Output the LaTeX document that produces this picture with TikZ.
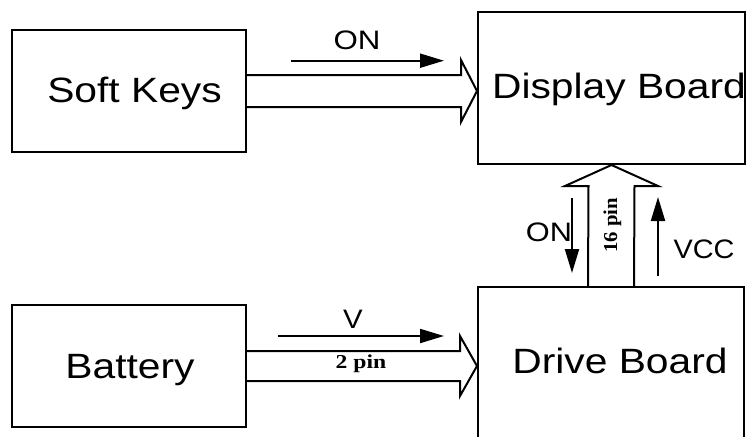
\documentclass[tikz,border=0pt]{standalone}
\usepackage{fontspec}
\usepackage{graphicx}
\setmainfont{Liberation Sans}
\newfontfamily\pinfont{Liberation Serif}
\usetikzlibrary{arrows.meta,positioning,calc}

\newcommand{\wider}[2]{\scalebox{#1}[1]{#2}}

\tikzset{
  blk/.style={draw, line width=0.05cm},
  bigtxt/.style={font=\fontsize{25}{28}\selectfont, anchor=base, inner sep=0pt},
  lbl/.style={font=\fontsize{19}{22}\selectfont, anchor=base, inner sep=0pt},
  pinlbl/.style={font=\pinfont\bfseries\fontsize{14}{16}\selectfont, inner sep=0pt},
  fat/.style={line width=0.05cm, line join=miter},
  sig/.style={-{Triangle[length=0.6cm,width=0.35cm]}, line width=0.05cm},
}

\begin{document}
\begin{tikzpicture}[line cap=butt]

\clip (0,0) rectangle (18.875,10.9);

% boxes
\node[blk, minimum width=5.85cm, minimum height=3.05cm] (soft) at (3.225,8.625) {};
\node[blk, minimum width=5.85cm, minimum height=3.05cm] (batt) at (3.225,1.75) {};
\node[blk, minimum width=6.675cm, minimum height=3.8cm] (disp) at (15.2875,8.7) {};
\node[blk, minimum width=6.65cm, minimum height=3.8cm] (drive) at (15.275,1.825) {};

\node[bigtxt] (softtxt) at (3.3625,8.35) {\wider{1.16}{Soft Keys}};
\node[bigtxt] (batttxt) at (3.25,1.45) {\wider{1.16}{Battery}};
\node[bigtxt] (disptxt) at (15.475,8.45) {\wider{1.16}{Display Board}};
\node[bigtxt] (drivetxt) at (15.5,1.575) {\wider{1.16}{Drive Board}};

% wide arrows
\coordinate (tipA) at (soft.east -| disp.west);
\coordinate (tipB) at (batt.east -| drive.west);
\coordinate (tipC) at (disp.south);

\draw[fat] ($(soft.east)+(0,0.4)$) -- ($(tipA)+(-0.4,0.4)$) -- ++(0,0.375) -- (tipA)
  -- ($(tipA)+(-0.4,-0.775)$) -- ++(0,0.375) -- ($(soft.east)+(0,-0.4)$);
\draw[fat] ($(batt.east)+(0,0.375)$) -- ($(tipB)+(-0.425,0.375)$) -- ++(0,0.375) -- (tipB)
  -- ($(tipB)+(-0.425,-0.75)$) -- ++(0,0.375) -- ($(batt.east)+(0,-0.375)$);
\draw[fat] ($(drive.north)+(-0.575,0)$) -- ($(tipC)+(-0.575,-0.525)$) -- ++(-0.5875,0) -- (tipC)
  -- ($(tipC)+(1.1625,-0.525)$) -- ++(-0.5875,0) -- ($(drive.north)+(0.575,0)$);

% signal arrows
\coordinate (onA) at (7.275,9.3825);
\coordinate (onB) at (11.1,9.3825);
\coordinate (vA) at (6.95,2.5);
\coordinate (vB) at (11.1,2.5);
\coordinate (dnA) at (14.3,5.95);
\coordinate (dnB) at (14.3,4.075);
\coordinate (upA) at (16.45,4.0);
\coordinate (upB) at (16.45,5.975);

\draw[sig] (onA) -- (onB);
\draw[sig] (vA) -- (vB);
\draw[sig] (dnA) -- (dnB);
\draw[sig] (upA) -- (upB);

% labels
\node[lbl] (lblon) at (8.925,9.675) {\wider{1.17}{ON}};
\node[lbl] (lblv) at (8.825,2.7) {\wider{1.1}{V}};
\node[lbl] (lblon2) at (13.725,4.875) {\wider{1.15}{ON}};
\node[lbl] (lblvcc) at (17.6,4.45) {\wider{1.08}{VCC}};
\node[pinlbl, anchor=base] (pin2) at (9.025,1.7) {\wider{1.2}{2 pin}};
\node[pinlbl, rotate=90] (pin16) at (15.3125,5.2625) {\wider{1.05}{16 pin}};

\end{tikzpicture}
\end{document}
